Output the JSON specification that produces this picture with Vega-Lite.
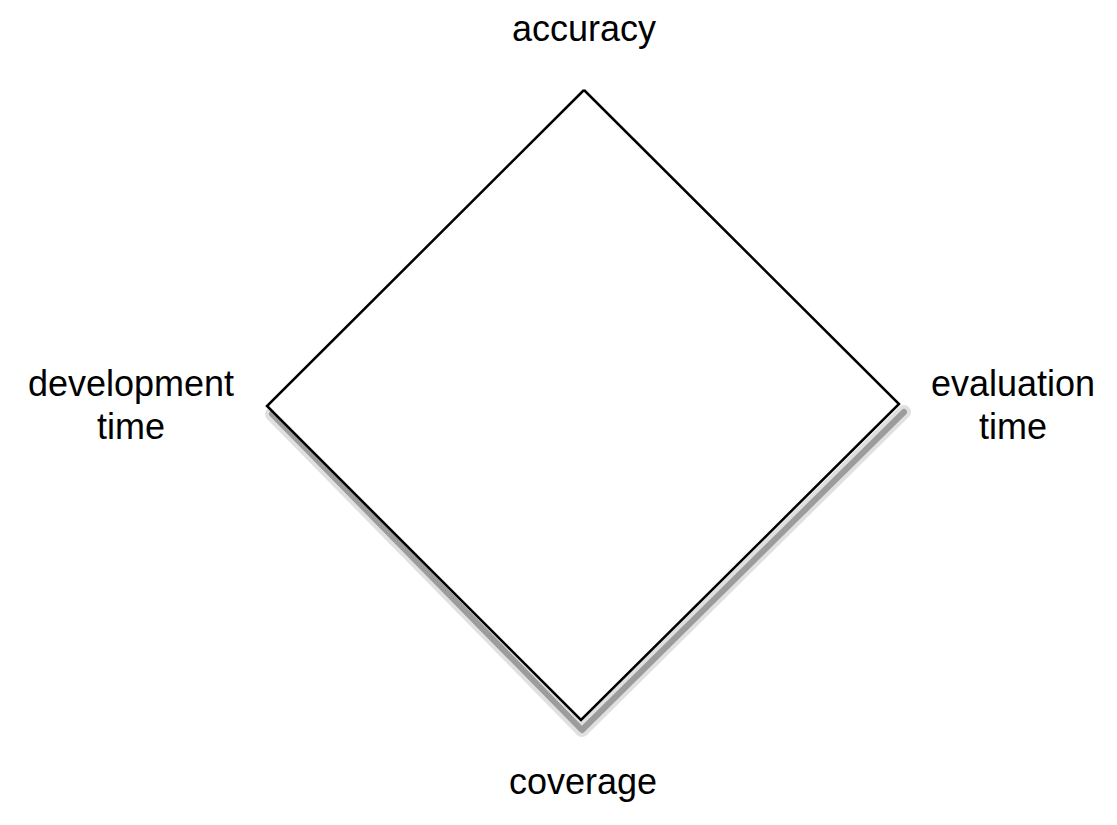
{
  "$schema": "https://vega.github.io/schema/vega-lite/v6.json",
  "width": 1117, "height": 825,
  "autosize": {"type": "fit", "contains": "padding"},
  "padding": 0,
  "background": "white",
  "view": {"stroke": null},
  "datasets": {
    "shape": [
      {"o": 1, "x": 584, "y": 90},
      {"o": 2, "x": 899, "y": 404},
      {"o": 3, "x": 581, "y": 720},
      {"o": 4, "x": 267, "y": 406},
      {"o": 5, "x": 584, "y": 90}
    ],
    "shadow": [
      {"o": 1, "x": 272, "y": 414},
      {"o": 2, "x": 582, "y": 730},
      {"o": 3, "x": 904, "y": 412}
    ],
    "labels": [
      {"x": 584, "y": 30, "t": "accuracy"},
      {"x": 131, "y": 385, "t": "development"},
      {"x": 131, "y": 428, "t": "time"},
      {"x": 1013, "y": 385, "t": "evaluation"},
      {"x": 1013, "y": 428, "t": "time"},
      {"x": 583, "y": 783, "t": "coverage"}
    ]
  },
  "layer": [
    {
      "data": {"name": "shadow"},
      "mark": {"type": "line", "stroke": "#000", "strokeWidth": 14, "opacity": 0.12, "strokeJoin": "round", "strokeCap": "round"},
      "encoding": {
        "x": {"field": "x", "type": "quantitative", "scale": {"domain": [0, 1117]}, "axis": null},
        "y": {"field": "y", "type": "quantitative", "scale": {"domain": [825, 0]}, "axis": null},
        "order": {"field": "o"}
      }
    },
    {
      "data": {"name": "shadow"},
      "mark": {"type": "line", "stroke": "#000", "strokeWidth": 6, "opacity": 0.3, "strokeJoin": "round", "strokeCap": "round"},
      "encoding": {
        "x": {"field": "x", "type": "quantitative", "scale": {"domain": [0, 1117]}, "axis": null},
        "y": {"field": "y", "type": "quantitative", "scale": {"domain": [825, 0]}, "axis": null},
        "order": {"field": "o"}
      }
    },
    {
      "data": {"name": "shape"},
      "mark": {"type": "line", "stroke": "#000", "strokeWidth": 2.5, "fill": "white", "strokeJoin": "miter"},
      "encoding": {
        "x": {"field": "x", "type": "quantitative", "scale": {"domain": [0, 1117]}, "axis": null},
        "y": {"field": "y", "type": "quantitative", "scale": {"domain": [825, 0]}, "axis": null},
        "order": {"field": "o"}
      }
    },
    {
      "data": {"name": "labels"},
      "mark": {"type": "text", "font": "Liberation Sans", "fontSize": 36, "color": "#000", "align": "center", "baseline": "middle"},
      "encoding": {
        "x": {"field": "x", "type": "quantitative", "scale": {"domain": [0, 1117]}, "axis": null},
        "y": {"field": "y", "type": "quantitative", "scale": {"domain": [825, 0]}, "axis": null},
        "text": {"field": "t"}
      }
    }
  ]
}
